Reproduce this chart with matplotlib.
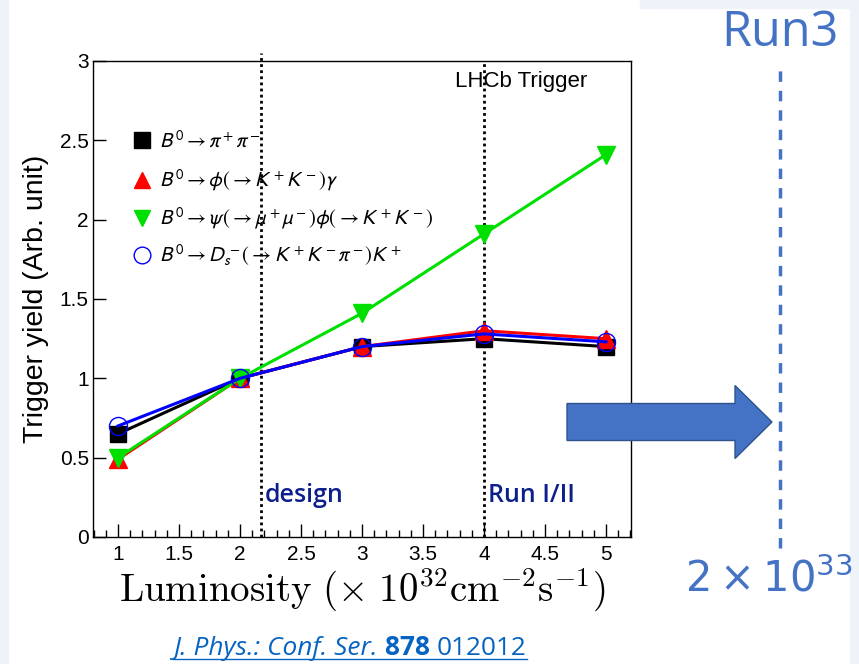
import numpy as np
import matplotlib.pyplot as plt
from matplotlib.patches import FancyArrow, Rectangle
from matplotlib.font_manager import FontProperties

# luminosity points (x 1e32 cm^-2 s^-1)
lumi = [1, 2, 3, 4, 5]

# trigger yields
yield_pipi = [0.65, 1.0, 1.2, 1.25, 1.2]
yield_phigamma = [0.49, 1.0, 1.2, 1.3, 1.25]
yield_psiphi = [0.5, 1.0, 1.41, 1.91, 2.41]
yield_dsk = [0.70, 1.0, 1.2, 1.28, 1.23]

labels = [
    r"$B^0 \rightarrow \pi^+\pi^-$",
    r"$B^0 \rightarrow \phi(\rightarrow K^+K^-)\gamma$",
    r"$B^0 \rightarrow \psi(\rightarrow \mu^+\mu^-)\phi(\rightarrow K^+K^-)$",
    r"$B^0 \rightarrow D_s^-(\rightarrow K^+K^-\pi^-)K^+$",
]

design_lumi = 2.17
run12_lumi = 4.0

cite_parts = [("J. Phys.: Conf. Ser. ", "normal", "italic"),
              ("878 ", "bold", "normal"),
              ("012012", "normal", "normal")]

plt.rcParams["font.family"] = ["Liberation Sans", "DejaVu Sans"]

W, H = 859, 664
fig = plt.figure(figsize=(W / 100, H / 100), dpi=100)
fig.patch.set_facecolor("white")

# faint slide background strips
bg = "#eef3fa"
fig.add_artist(Rectangle((0, 0), 8 / W, 1, transform=fig.transFigure, color=bg, zorder=0))
fig.add_artist(Rectangle((850 / W, 0), 9 / W, 1, transform=fig.transFigure, color=bg, zorder=0))
fig.add_artist(Rectangle((640 / W, 1 - 8 / H), 219 / W, 8 / H, transform=fig.transFigure, color=bg, zorder=0))

ax = fig.add_axes([93 / W, 1 - 537 / H, 538 / W, 476 / H])
ax.set_xlim(0.795, 5.205)
ax.set_ylim(0, 3)

ax.plot(lumi, yield_pipi, color="black", lw=2.2, marker="s", ms=12, mfc="black", mec="black", zorder=3)
ax.plot(lumi, yield_phigamma, color="red", lw=2.2, marker="^", ms=13, mfc="red", mec="red", zorder=4)
ax.plot(lumi, yield_psiphi, color="#00e000", lw=2.2, marker="v", ms=13, mfc="#00e000", mec="#00e000", zorder=5)
ax.plot(lumi, yield_dsk, color="blue", lw=2.2, marker="o", ms=13, mfc="none", mec="blue", mew=1.0, zorder=6)

# legend entries drawn as markers + text (no frame)
leg_y = [2.5, 2.25, 2.01, 1.78]
leg_markers = [("s", "black", "black"), ("^", "red", "red"), ("v", "#00e000", "#00e000"), ("o", "none", "blue")]
legfont = FontProperties(family="Liberation Sans", size=15, math_fontfamily="stixsans")
for yv, (m, fc, ec), lab in zip(leg_y, leg_markers, labels):
    ax.plot([1.2], [yv], marker=m, ms=12, mfc=fc, mec=ec, ls="none", clip_on=False, zorder=7)
    ax.text(1.34, yv, lab, fontproperties=legfont, va="center", ha="left", zorder=7)

# reference luminosity lines
ax.axvline(design_lumi, ymin=0, ymax=1.017, color="black", ls=(0, (1, 1.2)), lw=2, clip_on=False, zorder=2)
ax.axvline(run12_lumi, ymin=0, ymax=1.0, color="black", ls=(0, (1, 1.2)), lw=2, zorder=2)
ax.text(design_lumi + 0.03, 0.26, "design", color="#0d1f8c", fontsize=18, family="Open Sans",
        fontweight="semibold", va="center", ha="left")
ax.text(run12_lumi + 0.03, 0.26, "Run I/II", color="#0d1f8c", fontsize=18, family="Open Sans",
        fontweight="semibold", va="center", ha="left")
ax.text(3.76, 2.87, "LHCb Trigger", fontsize=16, va="center", ha="left")

# ROOT-like axes
ax.set_xticks(np.arange(1, 5.01, 0.5))
ax.set_xticklabels(["1", "1.5", "2", "2.5", "3", "3.5", "4", "4.5", "5"])
ax.set_xticks(np.arange(0.8, 5.21, 0.1), minor=True)
ax.set_yticks([0, 0.5, 1, 1.5, 2, 2.5, 3])
ax.set_yticklabels(["0", "0.5", "1", "1.5", "2", "2.5", "3"])
ax.tick_params(axis="both", which="major", direction="in", length=9.5, width=1, labelsize=15)
ax.tick_params(axis="x", which="minor", direction="in", length=5, width=1)
ax.tick_params(axis="x", which="major", pad=6)
ax.tick_params(axis="y", which="major", pad=3)
for sp in ax.spines.values():
    sp.set_linewidth(1)

ax.set_ylabel("Trigger yield (Arb. unit)", fontsize=20.5, labelpad=8)
ax.set_xlabel(r"$\mathrm{Luminosity}\ (\times\ 10^{32}\mathrm{cm}^{-2}\mathrm{s}^{-1})$",
              fontsize=28, math_fontfamily="cm", labelpad=1)

# Run3 annotation on the slide
blue = "#4472c4"
fig.text(780 / W, 1 - 46 / H, "Run3", color=blue, fontsize=35, family="Open Sans",
         ha="center", va="baseline")
fig.add_artist(plt.Line2D([780 / W, 780 / W], [1 - 548 / H, 1 - 66 / H], transform=fig.transFigure,
                          color=blue, lw=2.5, ls=(0, (3, 2.6))))
fig.text(769 / W, 1 - 579 / H, r"$2 \times 10^{33}$", color=blue, fontsize=30,
         math_fontfamily="dejavusans", ha="center", va="center")
fig.add_artist(FancyArrow(567 / W, 1 - 422 / H, 205 / W, 0, width=37 / H, head_width=73 / H,
                          head_length=37 / W, length_includes_head=True, transform=fig.transFigure,
                          facecolor=blue, edgecolor="#2f528f", lw=1, zorder=10))

# citation line, pieces placed one after another and scaled to the target width
cite_color = "#0563c1"
cite_x0, cite_x1, cite_base = 173, 527, 655
renderer = fig.canvas.get_renderer()
size = 16
texts = []
for s, w, st in cite_parts:
    t = fig.text(0, 0, s, color=cite_color, fontsize=size, family="Open Sans", fontweight=w,
                 style=st, ha="left", va="baseline")
    texts.append(t)
widths = [t.get_window_extent(renderer).width for t in texts]
scale = (cite_x1 - cite_x0) / sum(widths)
x = cite_x0
for t, w in zip(texts, widths):
    t.set_fontsize(size * scale)
    t.set_position((x / W, 1 - cite_base / H))
    x += w * scale
fig.add_artist(plt.Line2D([cite_x0 / W, cite_x1 / W], [1 - 659 / H, 1 - 659 / H], transform=fig.transFigure,
                          color=cite_color, lw=1))

fig.savefig("out.png", dpi=100)
